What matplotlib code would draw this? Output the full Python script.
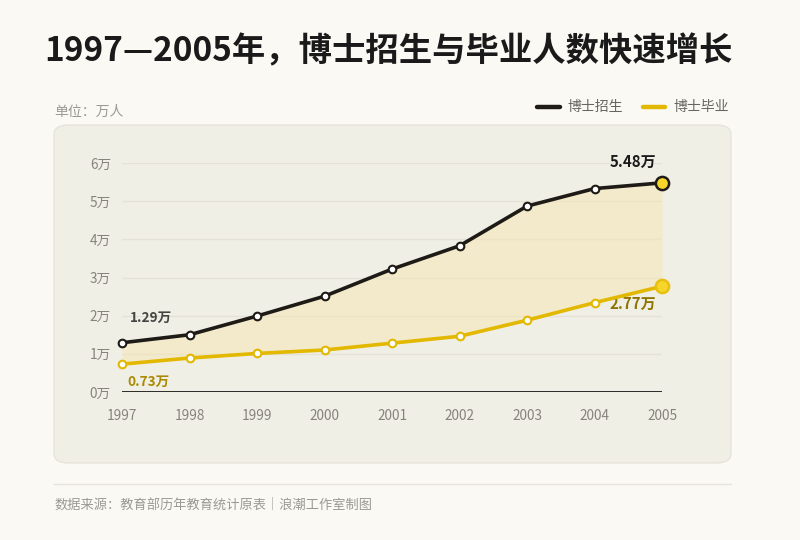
import matplotlib
matplotlib.use("Agg")
import matplotlib.pyplot as plt
from matplotlib.patches import FancyBboxPatch
from matplotlib.lines import Line2D

plt.rcParams['font.family'] = ['Noto Sans CJK SC', 'DejaVu Sans']

years = [1997, 1998, 1999, 2000, 2001, 2002, 2003, 2004, 2005]
enroll = [1.29, 1.50, 1.99, 2.51, 3.22, 3.83, 4.87, 5.33, 5.48]
grad = [0.73, 0.89, 1.01, 1.10, 1.28, 1.46, 1.88, 2.34, 2.77]
yticks = [0, 1, 2, 3, 4, 5, 6]
ytick_labels = [f"{v}万" for v in yticks]
series_names = ["博士招生", "博士毕业"]

W, H = 800, 540
BG = '#faf9f4'
PANEL = '#f0efe6'
BLACK = '#1e1b16'
GOLD = '#e2b800'
GOLD_FILL = '#f7d52a'

fig = plt.figure(figsize=(W / 100, H / 100), dpi=100, facecolor=BG)

def fx(px):
    return px / W

def fy(py):
    return 1 - py / H

# panel
panel = FancyBboxPatch((fx(54), fy(463)), fx(731) - fx(54), fy(125) - fy(463),
                       boxstyle="round,pad=0,rounding_size=0.018",
                       transform=fig.transFigure, facecolor=PANEL,
                       edgecolor='#e6e4da', linewidth=1.0, zorder=-5)
fig.patches.append(panel)

# title
fig.text(fx(44), fy(52), "1997—2005年，博士招生与毕业人数快速增长",
         fontsize=24, fontweight='bold', color='#1a1a1a', va='center', ha='left')
fig.text(fx(54), fy(112), "单位：万人", fontsize=10, color='#9a9a94', va='center', ha='left')

# legend
fig.add_artist(Line2D([fx(537), fx(560)], [fy(107), fy(107)], color=BLACK, lw=3.2,
                      solid_capstyle='round', transform=fig.transFigure))
fig.text(fx(567), fy(107), series_names[0], fontsize=10, color='#666660', va='center', ha='left')
fig.add_artist(Line2D([fx(643), fx(665)], [fy(107), fy(107)], color=GOLD, lw=3.2,
                      solid_capstyle='round', transform=fig.transFigure))
fig.text(fx(673), fy(107), series_names[1], fontsize=10, color='#666660', va='center', ha='left')

# footer
fig.add_artist(Line2D([fx(54), fx(731)], [fy(484), fy(484)], color='#e6e4dc', lw=1.0,
                      transform=fig.transFigure))
fig.text(fx(54), fy(505), "数据来源：教育部历年教育统计原表｜浪潮工作室制图",
         fontsize=9.5, color='#9a9a94', va='center', ha='left')

# axes
ax = fig.add_axes([fx(122), fy(392), fx(662) - fx(122), fy(163) - fy(392)])
ax.set_zorder(2)
ax.set_facecolor('none')
ax.set_xlim(1997, 2005)
ax.set_ylim(0, 6)
for s in ax.spines.values():
    s.set_visible(False)
ax.set_yticks(yticks)
ax.set_yticklabels(ytick_labels)
ax.set_xticks(years)
ax.set_xticklabels([str(y) for y in years])
ax.tick_params(axis='both', length=0, labelsize=9.8, colors='#85837c')
ax.tick_params(axis='y', pad=8)
ax.tick_params(axis='x', pad=12)
for v in yticks[1:]:
    ax.axhline(v, color='#e4e2d8', lw=1.0, zorder=1)
ax.axhline(0, color='#2b2a26', lw=1.4, zorder=2)

ax.fill_between(years, grad, enroll, color='#f5e6b2', alpha=0.5, lw=0, zorder=2)

ax.plot(years, enroll, color=BLACK, lw=2.6, zorder=4, solid_capstyle='round')
ax.plot(years, grad, color=GOLD, lw=2.6, zorder=4, solid_capstyle='round')
ax.plot(years[:-1], enroll[:-1], 'o', ms=5.5, mfc='white', mec=BLACK, mew=1.5, zorder=5, clip_on=False)
ax.plot(years[:-1], grad[:-1], 'o', ms=5.5, mfc='white', mec=GOLD, mew=1.5, zorder=5, clip_on=False)
ax.plot(years[-1], enroll[-1], 'o', ms=9.5, mfc=GOLD_FILL, mec=BLACK, mew=1.8, zorder=6, clip_on=False)
ax.plot(years[-1], grad[-1], 'o', ms=9.5, mfc=GOLD_FILL, mec='#e8c010', mew=1.8, zorder=6, clip_on=False)

ax.annotate(f"{enroll[0]}万", (years[0], enroll[0]), xytext=(6, 13), textcoords='offset points',
            fontsize=9.8, fontweight='bold', color='#444440', ha='left', va='bottom')
ax.annotate(f"{grad[0]}万", (years[0], grad[0]), xytext=(4, -8), textcoords='offset points',
            fontsize=9.8, fontweight='bold', color='#a88a00', ha='left', va='top')
ax.annotate(f"{enroll[-1]}万", (years[-1], enroll[-1]), xytext=(-4, 9), textcoords='offset points',
            fontsize=10.8, fontweight='bold', color='#1a1a1a', ha='right', va='bottom')
ax.annotate(f"{grad[-1]}万", (years[-1], grad[-1]), xytext=(-4, -7), textcoords='offset points',
            fontsize=10.8, fontweight='bold', color='#8f7400', ha='right', va='top')

fig.savefig("out.png", dpi=100, facecolor=BG)
